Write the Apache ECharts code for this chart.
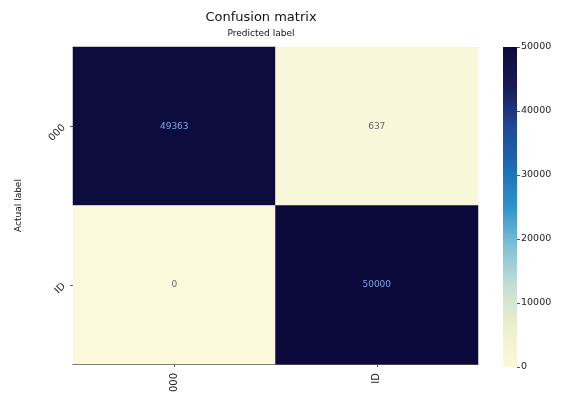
<!DOCTYPE html>
<html><head><meta charset="utf-8">
<script src="https://cdn.jsdelivr.net/npm/echarts@6/dist/echarts.min.js"></script>
<style>html,body{margin:0;padding:0;background:#fff}#c{width:567px;height:403px}</style>
</head><body><div id="c"></div>
<script>
const predictedLabels = ['000', 'ID'];
const actualLabels = ['000', 'ID'];
const matrixRows = [
  [49363, 637],
  [0, 50000]
];
const colorbarMin = 0;
const colorbarMax = 50000;
const colorbarStep = 10000;
const cmap = ['#fbf8dc','#ecf0cc','#c6dfd2','#80c2d6','#2f93cc','#1b6cb4','#1f4896','#191a58','#0c0a3c'];

const data = [];
matrixRows.forEach((row, r) => row.forEach((v, c) => data.push([c, r, v])));

const font = 'DejaVu Sans';
const gradStops = cmap.map((c, i) => ({ offset: 1 - i / (cmap.length - 1), color: c }));
const chart = echarts.init(document.getElementById('c'));
chart.setOption({
  animation: false,
  textStyle: { fontFamily: font },
  title: [
    { text: 'Confusion matrix', left: 256, textAlign: 'center', top: 6, textStyle: { fontSize: 13, fontWeight: 'normal', color: '#111', fontFamily: font } },
    { text: 'Predicted label', left: 256, textAlign: 'center', top: 24, textStyle: { fontSize: 9, fontWeight: 'normal', color: '#111', fontFamily: font } }
  ],
  grid: [
    { left: 73, top: 47, width: 405, height: 317 },
    { left: 503, top: 47, width: 14, height: 320 }
  ],
  xAxis: [
    { type: 'category', gridIndex: 0, data: predictedLabels, position: 'bottom',
      axisLine: { show: true, lineStyle: { color: '#555', width: 1 } },
      axisTick: { show: true, alignWithLabel: true, length: 3, lineStyle: { color: '#555' } },
      axisLabel: { rotate: 90, fontSize: 10, color: '#222', margin: 9 } },
    { type: 'category', gridIndex: 0, data: predictedLabels, position: 'top',
      axisLine: { show: true, lineStyle: { color: '#999', width: 1 } },
      axisTick: { show: false }, axisLabel: { show: false } },
    { type: 'category', gridIndex: 1, data: [''], show: false }
  ],
  yAxis: [
    { type: 'category', gridIndex: 0, data: actualLabels, inverse: true,
      name: 'Actual label', nameLocation: 'middle', nameGap: 50, nameRotate: 90,
      nameTextStyle: { fontSize: 9, color: '#111' },
      axisLine: { show: false },
      axisTick: { show: true, alignWithLabel: true, length: 3, lineStyle: { color: '#555' } },
      axisLabel: { rotate: 45, fontSize: 10, color: '#222', margin: 9 } },
    { type: 'value', gridIndex: 1, min: colorbarMin, max: colorbarMax, interval: colorbarStep, position: 'right',
      axisLine: { show: false },
      axisTick: { show: true, length: 3, lineStyle: { color: '#555' } },
      axisLabel: { fontSize: 9.5, color: '#222', margin: 4, formatter: v => String(v) },
      splitLine: { show: false } }
  ],
  visualMap: {
    type: 'continuous', min: colorbarMin, max: colorbarMax, seriesIndex: 0,
    show: false, inRange: { color: cmap }
  },
  series: [{
    type: 'heatmap', xAxisIndex: 0, yAxisIndex: 0,
    data: data.map(d => ({ value: d, label: { color: d[2] > 25000 ? '#7aa6e0' : '#666' } })),
    label: { show: true, fontSize: 9, formatter: p => String(p.value[2]) },
    itemStyle: { borderWidth: 0 },
    emphasis: { disabled: true }
  }, {
    type: 'bar', xAxisIndex: 2, yAxisIndex: 1, data: [colorbarMax], barWidth: '100%',
    itemStyle: { color: new echarts.graphic.LinearGradient(0, 0, 0, 1, gradStops) },
    silent: true
  }]
});
</script></body></html>
